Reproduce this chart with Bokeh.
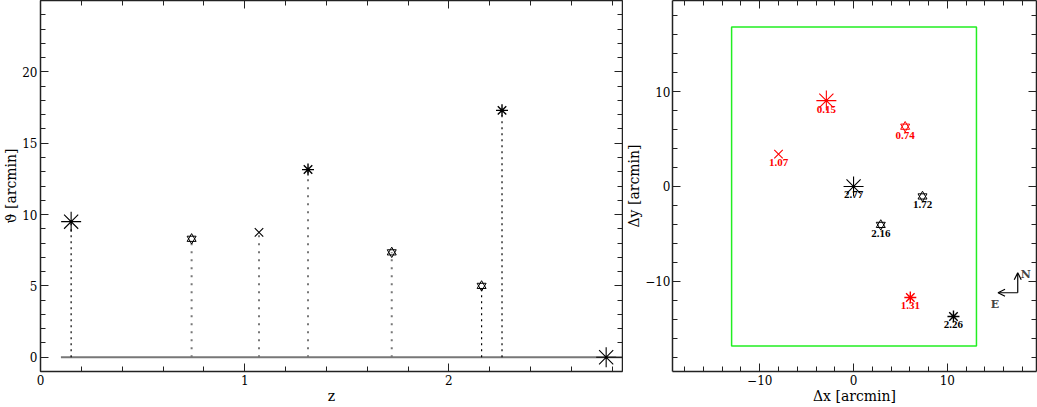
from bokeh.plotting import figure
from bokeh.layouts import row
from bokeh.models import (Range1d, LinearAxis, FixedTicker, ColumnDataSource, Arrow,
                          OpenHead, Label, GlobalInlineStyleSheet)
from bokeh.core.properties import value
from bokeh.embed import file_html
from bokeh.resources import INLINE

# ---------------- data ----------------
z = [0.15, 0.74, 1.07, 1.31, 1.72, 2.16, 2.26, 2.77]
z_labels = ["0.15", "0.74", "1.07", "1.31", "1.72", "2.16", "2.26", "2.77"]
theta = [9.5, 8.3, 8.75, 13.15, 7.35, 5.0, 17.3, 0.0]
dx = [-2.9, 5.5, -8.0, 6.05, 7.35, 2.9, 10.65, 0.0]
dy = [9.05, 6.3, 3.4, -11.7, -1.05, -4.05, -13.7, 0.0]
kind = ["big", "hexagram", "x", "asterisk", "hexagram", "hexagram", "asterisk", "big"]
sample = ["A", "A", "A", "A", "B", "B", "B", "B"]
stem = ["fine", "dotted", "dotted", "dotted", "dotted", "fine", "fine", "none"]
baseline_z = [0.1, 2.85]
field_x = [-13.0, 13.1]
field_y = [-16.8, 16.8]
compass_xy = [17.5, -11.2]
compass_len = 2.1

SERIF = "DejaVu Serif"
FRAME = "#222222"
SAMPLE_COLOR = {"A": "#ff0000", "B": "#000000"}


def tick_style(ax):
    ax.axis_line_color = FRAME
    ax.axis_line_width = 1.5
    ax.major_tick_line_color = FRAME
    ax.minor_tick_line_color = FRAME
    ax.major_tick_in = 8
    ax.major_tick_out = 0
    ax.minor_tick_in = 5
    ax.minor_tick_out = 0


def style_axes(p, xt, yt):
    for ax in list(p.xaxis) + list(p.yaxis):
        tick_style(ax)
        ax.major_label_text_font = SERIF
        ax.major_label_text_font_size = "12px"
        ax.major_label_text_color = "black"
        ax.axis_label_text_font = SERIF
        ax.axis_label_text_font_size = "14px"
        ax.axis_label_text_font_style = "normal"
        ax.axis_label_text_color = "black"
        ax.major_label_standoff = 3
        ax.axis_label_standoff = 0
    p.xaxis.ticker = xt
    p.yaxis.ticker = yt
    top = LinearAxis(ticker=xt)
    right = LinearAxis(ticker=yt)
    for ax in (top, right):
        tick_style(ax)
        ax.major_label_text_font_size = "0px"
        ax.major_label_text_color = None
        ax.major_label_standoff = 0
    p.add_layout(top, "above")
    p.add_layout(right, "right")
    p.xgrid.visible = False
    p.ygrid.visible = False
    p.outline_line_color = None


def draw_markers(p, xs, ys, colors):
    groups = {}
    for i, k in enumerate(kind):
        groups.setdefault(k, []).append(i)
    for k, idx in groups.items():
        src = ColumnDataSource(dict(x=[xs[i] for i in idx], y=[ys[i] for i in idx],
                                    c=[colors[i] for i in idx]))
        if k == "big":
            p.scatter("x", "y", source=src, marker="asterisk", size=20,
                      line_color="c", line_width=1.1)
        elif k == "asterisk":
            p.scatter("x", "y", source=src, marker="asterisk", size=12,
                      line_color="c", line_width=1.4)
        elif k == "x":
            p.scatter("x", "y", source=src, marker="x", size=12,
                      line_color="c", line_width=1.1)
        elif k == "hexagram":
            for m in ("triangle", "inverted_triangle"):
                p.scatter("x", "y", source=src, marker=m, size=9,
                          line_color="c", fill_color=None, line_width=1.0)


# ---------------- left panel ----------------
p1 = figure(width=623, height=407, output_backend="svg", toolbar_location=None,
            x_range=Range1d(0, 2.85), y_range=Range1d(-1, 25),
            min_border_left=39, min_border_right=1, min_border_top=0, min_border_bottom=36,
            x_axis_label="z", y_axis_label="ϑ [arcmin]")
style_axes(p1,
           FixedTicker(ticks=[0, 1, 2], minor_ticks=[i * 0.2 for i in range(0, 15)]),
           FixedTicker(ticks=[0, 5, 10, 15, 20], minor_ticks=list(range(-1, 26))))

p1.line(baseline_z, [0, 0], line_color="#777777", line_width=2)
fine = [i for i, s in enumerate(stem) if s == "fine"]
dots = [i for i, s in enumerate(stem) if s == "dotted"]
p1.segment(x0=[z[i] for i in fine], y0=[0] * len(fine), x1=[z[i] for i in fine],
           y1=[theta[i] for i in fine], line_color="black", line_width=1.2, line_dash="2 4")
p1.segment(x0=[z[i] for i in dots], y0=[0] * len(dots), x1=[z[i] for i in dots],
           y1=[theta[i] for i in dots], line_color="#777777", line_width=2, line_dash="2 6")
draw_markers(p1, z, theta, ["black"] * len(z))

# ---------------- right panel ----------------
p2 = figure(width=414, height=407, output_backend="svg", toolbar_location=None,
            x_range=Range1d(-19.3, 19.5), y_range=Range1d(-19.5, 19.6),
            min_border_left=43, min_border_right=1, min_border_top=0, min_border_bottom=36,
            x_axis_label="Δx [arcmin]", y_axis_label="Δy [arcmin]")
style_axes(p2,
           FixedTicker(ticks=[-10, 0, 10], minor_ticks=list(range(-20, 21, 2))),
           FixedTicker(ticks=[-10, 0, 10], minor_ticks=list(range(-20, 21, 2))))
p2.yaxis[0].major_label_standoff = 2

p2.quad(left=field_x[0], right=field_x[1], bottom=field_y[0], top=field_y[1],
        fill_color=None, line_color="#22ee22", line_width=1.5)

cols = [SAMPLE_COLOR[s] for s in sample]
draw_markers(p2, dx, dy, cols)
p2.text(x=dx, y=dy, text=z_labels, text_color=cols, text_font=value("Liberation Serif"),
        text_font_style="bold", text_font_size="11px", text_align="center",
        text_baseline="top", y_offset=5)

cx, cy = compass_xy
for ex, ey in ((cx, cy + compass_len), (cx - compass_len, cy)):
    p2.add_layout(Arrow(end=OpenHead(size=7, line_width=1.2, line_color="black"),
                        x_start=cx, y_start=cy, x_end=ex, y_end=ey,
                        line_width=1.2, line_color="black"))
p2.add_layout(Label(x=cx, y=cy + compass_len, text="N", x_offset=3, y_offset=-2,
                    text_font=SERIF, text_font_style="bold", text_font_size="11px",
                    text_baseline="middle", text_align="left"))
p2.add_layout(Label(x=cx - compass_len, y=cy, text="E", x_offset=-3, y_offset=-5,
                    text_font=SERIF, text_font_style="bold", text_font_size="11px",
                    text_baseline="top", text_align="center"))

layout = row(p1, p2, stylesheets=[GlobalInlineStyleSheet(css="body{margin:0;}")])
open("out.html", "w").write(file_html(layout, INLINE))
